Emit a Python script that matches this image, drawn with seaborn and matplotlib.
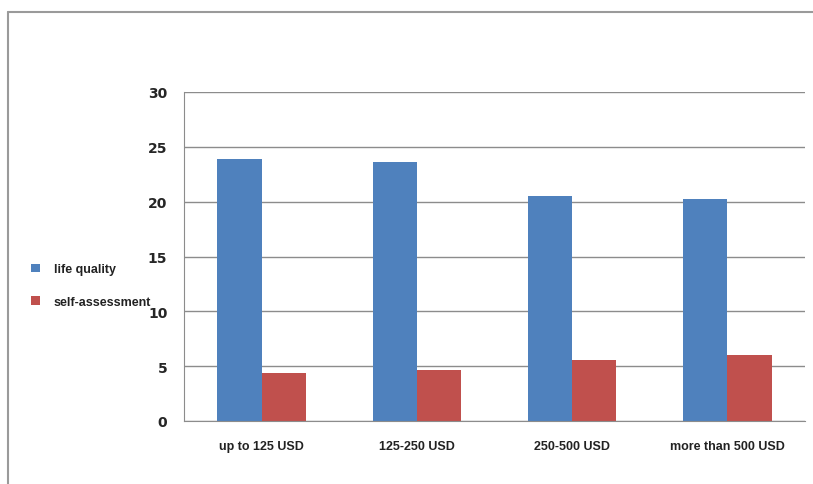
import pandas as pd
import seaborn as sns
import matplotlib.pyplot as plt
from matplotlib.patches import Patch
from matplotlib.lines import Line2D

# Dane
categories = ["up to 125 USD", "125-250 USD", "250-500 USD", "more than 500 USD"]
life_quality = [23.9, 23.6, 20.5, 20.2]
self_assessment = [4.4, 4.65, 5.55, 6.0]
series_names = ["life quality", "self-assessment"]
y_ticks = [0, 5, 10, 15, 20, 25, 30]

df = pd.DataFrame({
    "category": categories * 2,
    "value": life_quality + self_assessment,
    "series": [series_names[0]] * 4 + [series_names[1]] * 4,
})

sns.set_style("white")
plt.rcParams['font.family'] = ['Liberation Sans', 'DejaVu Sans']

fig = plt.figure(figsize=(8.13, 4.85), dpi=100)
ax = fig.add_axes([184 / 813, 1 - 422 / 485, (805 - 184) / 813, (422 - 93) / 485])

colors = ["#4F81BD", "#C0504D"]
sns.barplot(data=df, x="category", y="value", hue="series", palette=colors,
            width=0.57, gap=0, saturation=1, linewidth=0, ax=ax, legend=False)

ax.set_ylim(0, 30)
ax.set_yticks(y_ticks)
ax.set_yticklabels([str(t) for t in y_ticks], fontsize=10, fontweight='bold',
                   family='DejaVu Sans')
ax.tick_params(axis='y', length=0, pad=12)
ax.tick_params(axis='x', length=0, pad=14)
for lbl in ax.get_xticklabels():
    lbl.set_fontsize(9)
    lbl.set_fontweight('bold')
    lbl.set_color('#222222')
ax.set_xlabel("")
ax.set_ylabel("")
ax.set_xlim(-0.5, 3.5)

# Siatka
ax.yaxis.grid(True, color="#8c8c8c", linewidth=1)
ax.set_axisbelow(True)
for side in ["top", "right"]:
    ax.spines[side].set_visible(False)
ax.spines["left"].set_color("#8c8c8c")
ax.spines["bottom"].set_color("#8c8c8c")

# Legenda po lewej
handles = [Patch(facecolor=c, edgecolor='none') for c in colors]
leg = fig.legend(handles, series_names, loc="upper left", bbox_to_anchor=(20 / 813, 1 - 253 / 485),
                 frameon=False, prop={'size': 9, 'weight': 'bold'}, handlelength=0.7, handleheight=0.7,
                 handletextpad=1.1, labelspacing=1.65)
for t in leg.get_texts():
    t.set_color('#222222')

# Ramka obrazka (góra i lewa strona)
fig.add_artist(Line2D([8 / 813, 1], [1 - 13 / 485, 1 - 13 / 485], color="#9a9a9a", linewidth=1.5))
fig.add_artist(Line2D([8 / 813, 8 / 813], [0, 1 - 13 / 485], color="#9a9a9a", linewidth=1.5))

fig.savefig("out.png", dpi=100)
